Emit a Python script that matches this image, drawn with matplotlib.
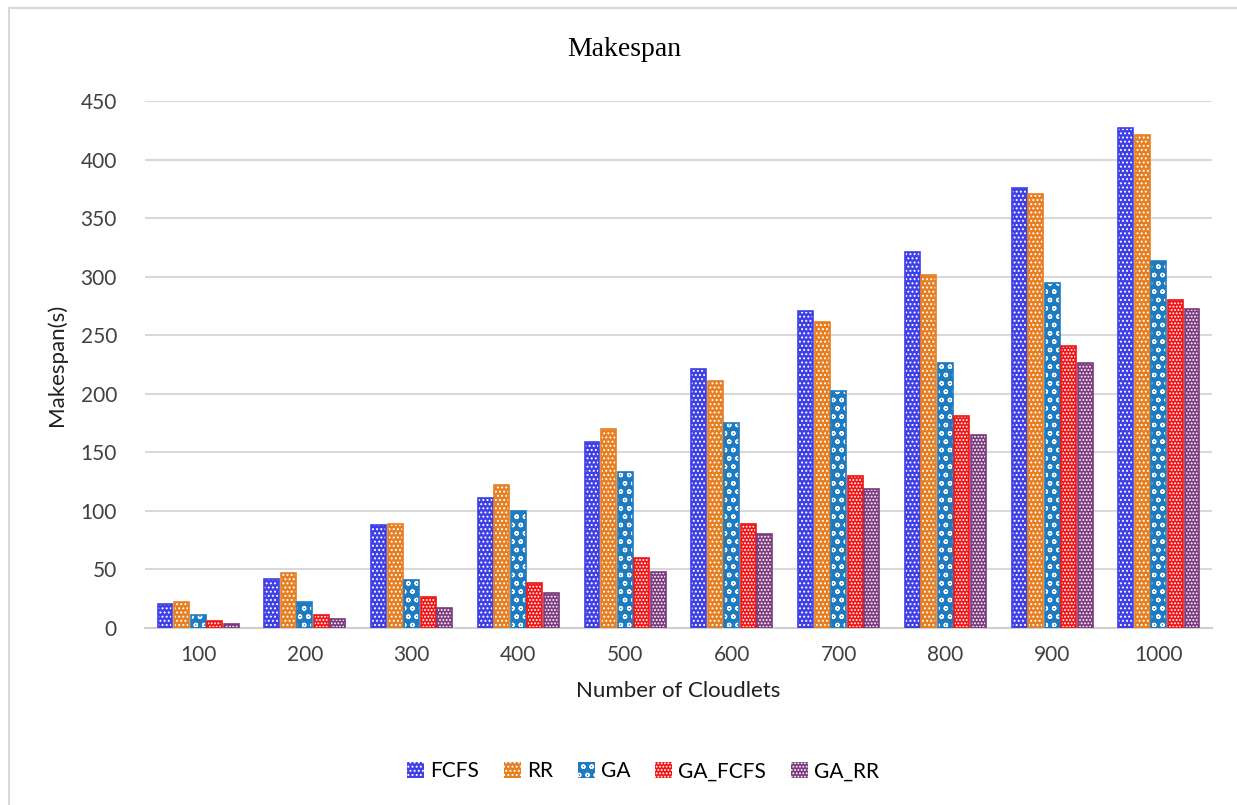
import matplotlib
matplotlib.use('Agg')
import matplotlib.pyplot as plt
from matplotlib.patches import Patch, Rectangle
import numpy as np

plt.rcParams['font.family'] = ['Lato', 'DejaVu Sans']
plt.rcParams['hatch.linewidth'] = 0.9

cloudlets = ['100', '200', '300', '400', '500', '600', '700', '800', '900', '1000']
fcfs = [20, 42, 88, 111, 159, 221, 271, 321, 376, 427]
rr = [22, 47, 89, 122, 170, 211, 261, 301, 371, 421]
ga = [11, 22, 41, 100, 133, 175, 202, 226, 295, 313]
ga_fcfs = [6, 11, 26, 38, 60, 89, 130, 181, 241, 280]
ga_rr = [3, 8, 17, 30, 48, 80, 119, 165, 226, 272]

series = ['FCFS', 'RR', 'GA', 'GA_FCFS', 'GA_RR']
values = [fcfs, rr, ga, ga_fcfs, ga_rr]
colors = ['#3f3fe6', '#e67e22', '#1f7bbf', '#f01414', '#7b3a7e']
hatches = ['....', '....', 'oo', '.....', '.....']

fig = plt.figure(figsize=(12.37, 8.05), dpi=100)
ax = fig.add_axes([0.117, 0.22, 0.863, 0.6545])

x = np.arange(len(cloudlets))
width = 0.14
step = 0.155

for i, (name, vals) in enumerate(zip(series, values)):
    pos = x + (i - 2) * step
    ax.bar(pos, vals, width, color=colors[i], edgecolor='white',
           hatch=hatches[i], linewidth=0, zorder=3)
    ax.bar(pos, vals, width, fill=False, edgecolor=colors[i],
           linewidth=1.2, zorder=4)

ax.set_xlim(-0.5, len(cloudlets) - 0.5)
ax.set_ylim(0, 450)
ax.set_yticks(np.arange(0, 451, 50))
ax.set_xticks(x)
ax.set_xticklabels(cloudlets)
ax.tick_params(axis='both', length=0, labelsize=15, colors='#404040')
ax.tick_params(axis='y', pad=20)
ax.tick_params(axis='x', pad=12)
ax.yaxis.grid(True, color='#d9d9d9', linewidth=1.5, zorder=0)
ax.set_axisbelow(True)
for s in ['top', 'right', 'left']:
    ax.spines[s].set_visible(False)
ax.spines['bottom'].set_color('#d0d0d0')
ax.spines['bottom'].set_linewidth(1.5)

ax.set_xlabel('Number of Cloudlets', fontsize=16, color='#202020', labelpad=12)
ax.set_ylabel('Makespan(s)', fontsize=16, color='#202020', labelpad=10)
fig.text(0.505, 0.938, 'Makespan', ha='center', va='center',
         fontsize=20, family=['Liberation Serif', 'DejaVu Serif'])

handles = [Patch(facecolor=c, edgecolor='white', hatch=h, linewidth=0)
           for c, h in zip(colors, hatches)]
fig.legend(handles, series, loc='center', bbox_to_anchor=(0.52, 0.042),
           ncol=5, frameon=False, fontsize=15, handlelength=0.8,
           handleheight=0.8, columnspacing=1.2, handletextpad=0.3)

# outer frame lines (left and top)
fig.add_artist(Rectangle((0.0075, -0.01), 1.2, 1.0, transform=fig.transFigure,
                         fill=False, edgecolor='#d9d9d9', linewidth=1.5))

fig.savefig('out.png', dpi=100)
